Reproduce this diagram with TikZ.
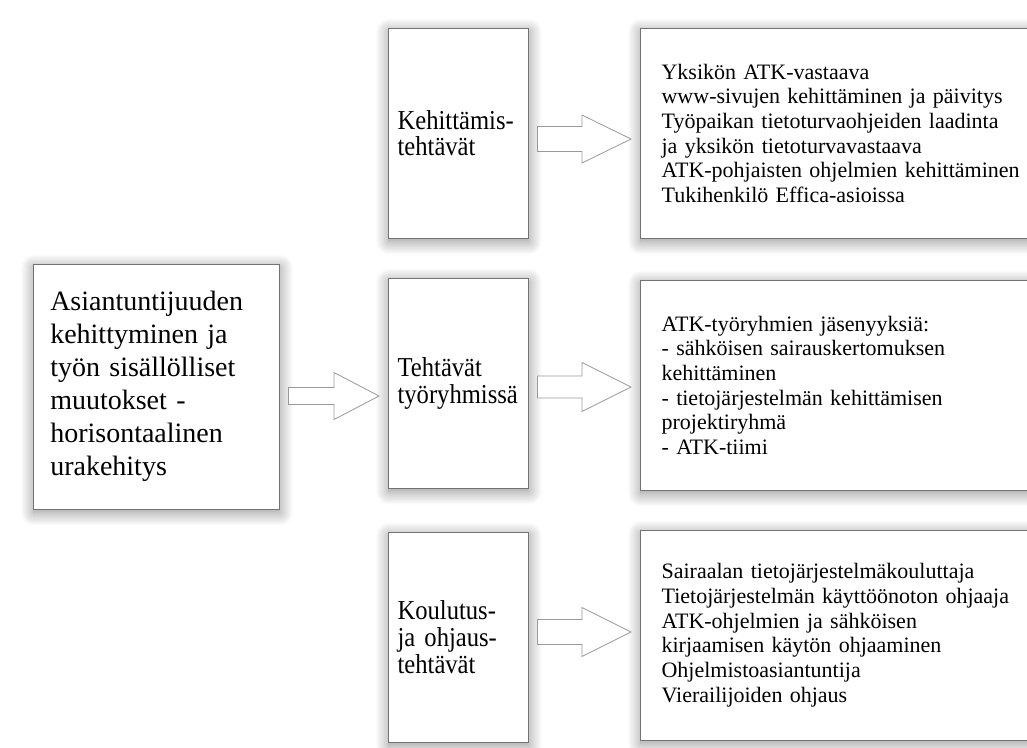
\documentclass[tikz,border=0pt]{standalone}
\usepackage{fontspec}
\setmainfont{Liberation Serif}
\newfontfamily\tallserif[FakeStretch=0.9]{Liberation Serif}
\usetikzlibrary{calc,shadows.blur}
\hyphenpenalty=10000

% #1 from, #2 to, #3 height, #4 half shaft, #5 half head, #6 head length
\newcommand{\blockarrow}[6]{%
  \draw[bigarrow] ($(#1.east |- 0,#3)+(9,-#4)$) -- ($(#2.west |- 0,#3)+(-9-#6,-#4)$)
    -- ($(#2.west |- 0,#3)+(-9-#6,-#5)$) -- ($(#2.west |- 0,#3)+(-9,0)$)
    -- ($(#2.west |- 0,#3)+(-9-#6,#5)$) -- ($(#2.west |- 0,#3)+(-9-#6,#4)$)
    -- ($(#1.east |- 0,#3)+(9,#4)$) -- cycle;}

\begin{document}
\begin{tikzpicture}[x=0.75pt, y=-0.75pt,
    box/.style={draw=black!55, fill=white, anchor=north west, align=left,
      blur shadow={shadow xshift=0.5pt, shadow yshift=-2.5pt,
        shadow blur radius=10pt, shadow blur steps=16, shadow opacity=45}},
    mainbox/.style={box, minimum width=184.5pt, minimum height=183.75pt,
      inner xsep=12.75pt, text width=159pt, font=\fontsize{21}{24.75}\selectfont},
    taskbox/.style={box, minimum width=105pt, minimum height=157.5pt,
      inner xsep=7pt, text width=91pt, font=\tallserif\fontsize{20.5}{20}\selectfont},
    listbox/.style={box, minimum height=157.5pt,
      inner xsep=16pt, text width=290pt, font=\fontsize{16.5}{18.5}\selectfont},
    bigarrow/.style={draw=black!40, fill=white, line width=0.6pt}]
    \path[use as bounding box, clip] (0,0) rectangle (1027,747);

    \node[mainbox] (ast) at (33,264) {Asiantuntijuuden\\kehittyminen ja\\ty\"on sis\"all\"olliset\\muutokset -\\horisontaalinen\\urakehitys};

    \node[taskbox] (kt) at (388,28) {Kehitt\"amis-\\teht\"av\"at};
    \node[taskbox] (tyo) at (388,278) {Teht\"av\"at\\ty\"oryhmiss\"a};
    \node[taskbox] (ko) at (388,532) {Koulutus-\\ja ohjaus-\\teht\"av\"at};

    \node[listbox] (ktr) at (640,28) {Yksik\"on ATK-vastaava\\www-sivujen kehitt\"aminen ja p\"aivitys\\Ty\"opaikan tietoturvaohjeiden laadinta\\ja yksik\"on tietoturvavastaava\\ATK-pohjaisten ohjelmien kehitt\"aminen\\Tukihenkil\"o Effica-asioissa};
    \node[listbox] (tyor) at (640,280) {ATK-ty\"oryhmien j\"asenyyksi\"a:\\- s\"ahk\"oisen sairauskertomuksen\\kehitt\"aminen\\- tietoj\"arjestelm\"an kehitt\"amisen\\projektiryhm\"a\\- ATK-tiimi};
    \node[listbox] (kor) at (640,530) {Sairaalan tietoj\"arjestelm\"akouluttaja\\Tietoj\"arjestelm\"an k\"aytt\"o\"onoton ohjaaja\\ATK-ohjelmien ja s\"ahk\"oisen\\kirjaamisen k\"ayt\"on ohjaaminen\\Ohjelmistoasiantuntija\\Vierailijoiden ohjaus};

    \blockarrow{ast}{tyo}{396}{8.5}{23.5}{45}
    \blockarrow{kt}{ktr}{139}{12.5}{24}{49}
    \blockarrow{tyo}{tyor}{387}{11}{24.5}{49}
    \blockarrow{ko}{kor}{632}{12.5}{24.5}{49}
\end{tikzpicture}
\end{document}
